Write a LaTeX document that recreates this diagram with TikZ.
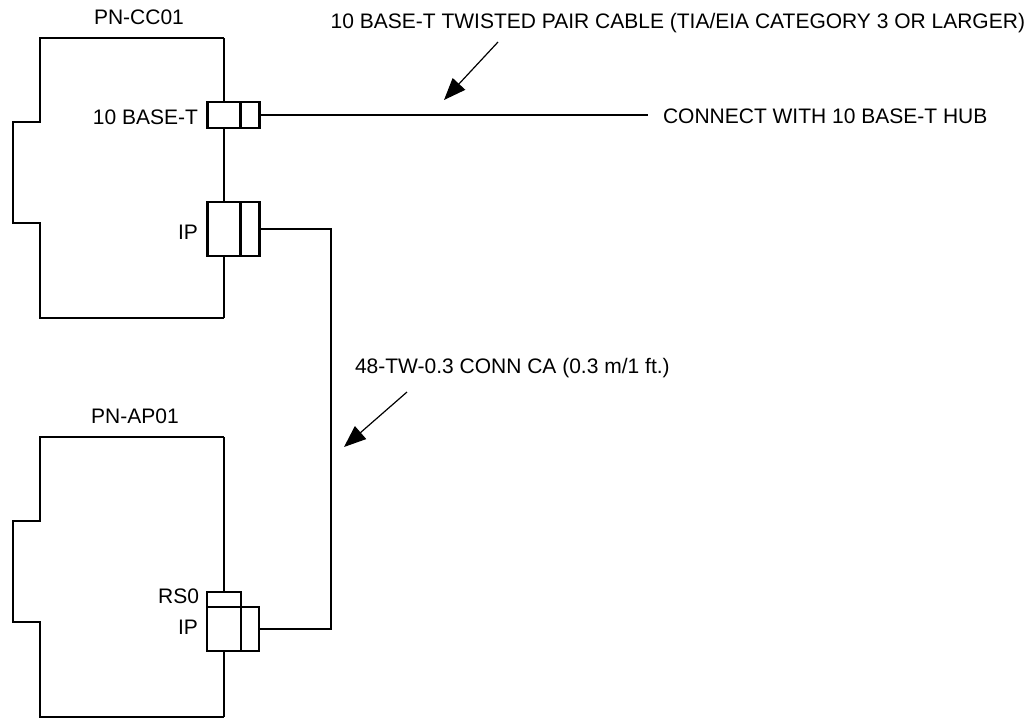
\documentclass[tikz,border=0pt]{standalone}
\usepackage{fontspec}
\setmainfont{Liberation Sans}
\usetikzlibrary{arrows.meta,positioning}
\begin{document}
\begin{tikzpicture}[x=1pt,y=-1pt,line join=miter,line width=2.2pt,>={Triangle[length=22pt,width=17pt]}]
	\tikzset{every node/.style={font=\fontsize{21}{25}\selectfont,inner sep=0pt,outer sep=0pt},
		port/.style={draw,line width=2.6pt,minimum width=33pt,inner sep=0pt,outer sep=0pt},
		pointer/.style={->,line width=1.2pt}}
	\useasboundingbox (0,0) rectangle (1032,718);
	% module outlines
	\foreach \t/\cx/\name in {38/139/PN-CC01,437/135/PN-AP01}{
		\draw (224,\t) -- (40,\t) -- (40,{\t+84}) -- (13,{\t+84}) -- (13,{\t+185})
			-- (40,{\t+185}) -- (40,{\t+280}) -- (224,{\t+280});
		\node[anchor=base] at (\cx,{\t-14}) {\name};
	}
	% ports
	\node[port,minimum height=26pt] (ethport) at (224,115) {};
	\node[port,minimum width=19pt,minimum height=26pt,anchor=west] (ethplug) at (ethport.east) {};
	\node[port,minimum height=54pt] (ccip) at (224,229) {};
	\node[port,minimum width=19pt,minimum height=54pt,anchor=west] (ccipplug) at (ccip.east) {};
	\node[port,minimum width=34pt,minimum height=15pt] (aprs) at (224,599.5) {};
	\node[port,minimum width=34pt,minimum height=44pt,anchor=north] (apip) at (aprs.south) {};
	\node[port,minimum width=18pt,minimum height=44pt,anchor=west] (apipplug) at (apip.east) {};
	% right edges between ports
	\draw (224,38) -- (ethport.north);
	\draw (ethport.south) -- (ccip.north);
	\draw (ccip.south) -- (224,318);
	\draw (224,437) -- (aprs.north);
	\draw (apip.south) -- (224,717);
	% port labels
	\node[anchor=base east] (ethlbl) at (198,124) {10 BASE-T};
	\node[anchor=base east] (cciplbl) at (198,239) {IP};
	\node[anchor=base east] (aprslbl) at (199,603) {RS0};
	\node[anchor=base east] (apiplbl) at (198,634) {IP};
	% cables
	\coordinate (hubend) at (648,115);
	\coordinate (bend) at (331,0);
	\node[anchor=base west] (hub) at (663,123) {CONNECT WITH 10 BASE-T HUB};
	\draw (ethplug.east) -- (hubend);
	\draw (ccipplug.east) -- (ccipplug.east -| bend) -- (apipplug.east -| bend) -- (apipplug.east);
	% cable notes
	\node[anchor=base east] (utpnote) at (1025,28) {10 BASE-T TWISTED PAIR CABLE (TIA/EIA CATEGORY 3 OR LARGER)};
	\node[anchor=base west] (connnote) at (355,373) {48-TW-0.3 CONN CA (0.3 m/1 ft.)};
	\coordinate (utpfrom) at (498,42);
	\coordinate (utpto) at (444,100);
	\coordinate (connfrom) at (407,392);
	\coordinate (connto) at (344,447);
	\draw[pointer] (utpfrom) -- (utpto);
	\draw[pointer] (connfrom) -- (connto);
\end{tikzpicture}
\end{document}
